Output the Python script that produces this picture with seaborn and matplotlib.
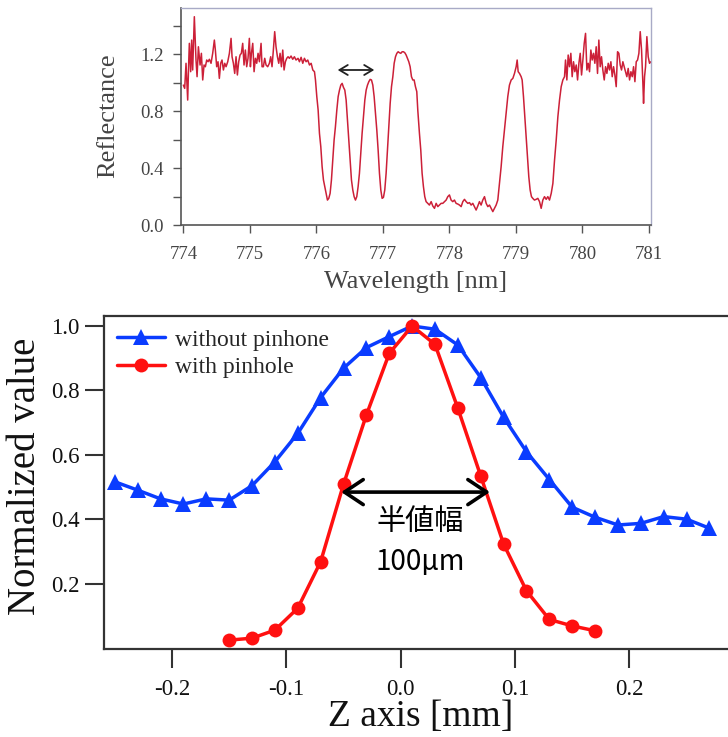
import matplotlib
matplotlib.use("Agg")
import matplotlib.pyplot as plt
import numpy as np
import pandas as pd
import seaborn as sns

sns.set_theme(style="white")
plt.rcParams['font.family'] = ['Liberation Serif', 'DejaVu Serif']

# ---------------- top panel: reflectance spectrum ----------------
wl_a = [774.000, 774.020, 774.040, 774.065, 774.080, 774.090, 774.110, 774.125, 774.140, 774.165,
        774.190, 774.206, 774.226, 774.251, 774.271, 774.291, 774.311, 774.331, 774.351, 774.371,
        774.391, 774.416, 774.441, 774.466, 774.481, 774.501, 774.521, 774.541, 774.561, 774.581,
        774.602, 774.622, 774.642, 774.667, 774.692, 774.717, 774.732, 774.752, 774.772, 774.792,
        774.812, 774.832, 774.852, 774.872, 774.892, 774.912, 774.932, 774.952, 774.972, 774.992,
        775.008, 775.023, 775.043, 775.063, 775.083, 775.103, 775.123, 775.143, 775.168, 775.183,
        775.203, 775.223, 775.243, 775.268, 775.293, 775.313, 775.333, 775.353, 775.373, 775.393,
        775.414, 775.434, 775.454, 775.474, 775.494, 775.514, 775.534, 775.554, 775.574, 775.594,
        775.619, 775.644, 775.669, 775.694, 775.724]
refl_a = [0.982, 0.959, 1.135, 0.877, 1.135, 1.275, 1.076, 1.298, 1.088, 1.462,
          1.158, 1.041, 1.251, 1.123, 1.205, 1.018, 1.123, 1.111, 1.158, 1.146,
          1.163, 1.135, 1.205, 1.298, 1.228, 1.111, 1.146, 1.029, 1.135, 1.158,
          1.088, 1.135, 1.111, 1.146, 1.205, 1.310, 1.181, 1.135, 1.064, 1.181,
          1.053, 1.146, 1.193, 1.205, 1.275, 1.123, 1.228, 1.111, 1.170, 1.310,
          1.111, 1.205, 1.275, 1.076, 1.170, 1.135, 1.205, 1.146, 1.275, 1.111,
          1.111, 1.170, 1.123, 1.111, 1.135, 1.181, 1.111, 1.228, 1.357, 1.251,
          1.181, 1.135, 1.205, 1.111, 1.228, 1.088, 1.146, 1.170, 1.181, 1.170,
          1.186, 1.163, 1.181, 1.158, 1.170]

wl_b = [775.745, 775.770, 775.795, 775.820, 775.845, 775.870, 775.896, 775.921, 775.946, 775.971,
        775.986, 776.006, 776.026, 776.046, 776.066, 776.086, 776.106, 776.126, 776.146, 776.166,
        776.186, 776.206, 776.226, 776.246, 776.266, 776.286, 776.307, 776.327, 776.347, 776.367,
        776.387, 776.407, 776.427, 776.447, 776.467, 776.487, 776.507, 776.527, 776.547, 776.567,
        776.587, 776.607, 776.627, 776.647, 776.667, 776.687, 776.707, 776.728, 776.748, 776.768,
        776.788, 776.808, 776.828, 776.848, 776.868, 776.888, 776.908, 776.928, 776.948, 776.968,
        776.988, 777.008, 777.028, 777.048, 777.068, 777.088, 777.109, 777.129, 777.149, 777.169,
        777.189, 777.209, 777.229, 777.249, 777.269, 777.289, 777.309, 777.329, 777.349, 777.369,
        777.389, 777.409, 777.429, 777.449, 777.469, 777.489, 777.509]
refl_b = [1.146, 1.177, 1.135, 1.170, 1.146, 1.158, 1.123, 1.135, 1.088, 1.076,
          1.018, 0.901, 0.807, 0.643, 0.550, 0.409, 0.316, 0.269, 0.222, 0.175,
          0.187, 0.222, 0.316, 0.456, 0.596, 0.690, 0.807, 0.901, 0.947, 0.982,
          0.994, 0.966, 0.947, 0.877, 0.737, 0.596, 0.456, 0.316, 0.246, 0.199,
          0.175, 0.199, 0.269, 0.363, 0.503, 0.643, 0.760, 0.877, 0.947, 0.982,
          1.006, 1.022, 1.018, 0.982, 0.901, 0.784, 0.667, 0.526, 0.363, 0.246,
          0.187, 0.194, 0.246, 0.363, 0.526, 0.690, 0.854, 0.971, 1.041, 1.135,
          1.181, 1.205, 1.216, 1.209, 1.205, 1.216, 1.216, 1.209, 1.193, 1.170,
          1.146, 1.111, 1.041, 1.018, 1.018, 0.971, 0.936]

wl_c = [777.524, 777.549, 777.569, 777.589, 777.609, 777.629, 777.649, 777.674, 777.699, 777.725,
        777.750, 777.775, 777.800, 777.825, 777.850, 777.875, 777.900, 777.925, 777.950, 777.975,
        778.000, 778.025, 778.050, 778.075, 778.100, 778.126, 778.151, 778.176, 778.201, 778.226,
        778.251, 778.276, 778.301, 778.326, 778.351, 778.376, 778.401, 778.426, 778.451, 778.476,
        778.501, 778.527, 778.552, 778.577, 778.602, 778.627, 778.652, 778.677, 778.702, 778.727,
        778.752, 778.777, 778.802, 778.827, 778.852, 778.877, 778.902, 778.928, 778.953, 778.978,
        779.003, 779.018, 779.033, 779.053, 779.078, 779.093, 779.113, 779.133, 779.153, 779.173,
        779.193, 779.213, 779.233, 779.253, 779.278, 779.303]
refl_c = [0.807, 0.643, 0.526, 0.363, 0.269, 0.199, 0.164, 0.152, 0.140, 0.164,
          0.133, 0.117, 0.152, 0.129, 0.140, 0.152, 0.152, 0.164, 0.175, 0.199,
          0.211, 0.175, 0.164, 0.175, 0.152, 0.147, 0.140, 0.129, 0.164, 0.180,
          0.164, 0.152, 0.157, 0.140, 0.152, 0.129, 0.105, 0.133, 0.164, 0.140,
          0.175, 0.199, 0.152, 0.129, 0.140, 0.117, 0.094, 0.117, 0.140, 0.175,
          0.292, 0.409, 0.550, 0.667, 0.784, 0.901, 0.982, 1.018, 1.029, 1.064,
          1.111, 1.158, 1.076, 1.064, 1.041, 1.018, 0.901, 0.760, 0.620, 0.480,
          0.339, 0.246, 0.199, 0.187, 0.175, 0.180]

wl_d = [779.329, 779.354, 779.379, 779.404, 779.429, 779.454, 779.479, 779.504, 779.530, 779.555,
        779.580, 779.605, 779.630, 779.655, 779.680, 779.705, 779.730, 779.745, 779.765, 779.785,
        779.805, 779.825, 779.845, 779.865, 779.885, 779.906, 779.926, 779.946, 779.966, 779.986,
        780.006, 780.026, 780.046, 780.066, 780.086, 780.106, 780.126, 780.146, 780.166, 780.186,
        780.206, 780.226, 780.246, 780.266, 780.286, 780.306, 780.327, 780.347, 780.367, 780.387,
        780.407, 780.427, 780.447, 780.467, 780.487, 780.507, 780.527, 780.547, 780.567, 780.587,
        780.607, 780.627, 780.647, 780.667, 780.687, 780.708, 780.728, 780.748, 780.768, 780.788,
        780.808, 780.828, 780.848, 780.868, 780.888, 780.908, 780.918, 780.933, 780.948, 780.968,
        780.988, 781.008, 781.028]
refl_d = [0.187, 0.164, 0.117, 0.175, 0.199, 0.180, 0.199, 0.175, 0.222, 0.292,
          0.456, 0.596, 0.760, 0.877, 0.971, 1.018, 1.041, 1.158, 1.018, 1.193,
          1.111, 1.205, 1.041, 1.146, 1.076, 1.123, 1.018, 1.135, 1.205, 1.053,
          1.158, 1.275, 1.345, 1.088, 1.135, 1.076, 1.228, 1.158, 1.205, 1.135,
          1.251, 1.064, 1.298, 1.111, 1.181, 1.088, 1.018, 1.111, 1.064, 1.135,
          1.088, 1.146, 1.041, 1.111, 1.053, 0.971, 1.216, 1.205, 1.123, 1.088,
          1.146, 1.111, 1.076, 1.041, 1.099, 1.018, 1.076, 1.041, 1.111, 1.006,
          1.146, 1.158, 1.205, 1.357, 1.228, 0.994, 0.854, 1.041, 1.111, 1.322,
          1.181, 1.135, 1.146]

top_xticks = [774, 775, 776, 777, 778, 779, 780, 781]
top_yticks = [0.0, 0.4, 0.8, 1.2]
top_yticklabels = ["0.0", "0.4", "0.8", "1.2"]
top_yminor = [0.2, 0.6, 1.0, 1.4]
spacing_arrow = (776.32, 776.87, 1.088)

# ---------------- bottom panel: Z scan ----------------
z_blue = [-0.25, -0.23, -0.21, -0.19, -0.17, -0.15, -0.13, -0.11, -0.09, -0.07,
          -0.05, -0.03, -0.01, 0.01, 0.03, 0.05, 0.07, 0.09, 0.11, 0.13,
          0.15, 0.17, 0.19, 0.21, 0.23, 0.25, 0.27]
v_blue = [0.517, 0.491, 0.464, 0.448, 0.464, 0.460, 0.505, 0.579, 0.667, 0.778,
          0.869, 0.933, 0.967, 1.000, 0.990, 0.941, 0.840, 0.717, 0.610, 0.524,
          0.438, 0.407, 0.383, 0.388, 0.409, 0.401, 0.373]
z_red = [-0.15, -0.13, -0.11, -0.09, -0.07, -0.05, -0.03, -0.01, 0.01, 0.03,
         0.05, 0.07, 0.09, 0.11, 0.13, 0.15, 0.17]
v_red = [0.026, 0.032, 0.057, 0.125, 0.269, 0.509, 0.724, 0.915, 1.000, 0.943,
         0.745, 0.535, 0.324, 0.179, 0.090, 0.070, 0.055]
bot_xticks = [-0.2, -0.1, 0.0, 0.1, 0.2]
bot_xticklabels = ["-0.2", "-0.1", "0.0", "0.1", "0.2"]
bot_yticks = [0.2, 0.4, 0.6, 0.8, 1.0]
bot_yticklabels = ["0.2", "0.4", "0.6", "0.8", "1.0"]
fwhm_arrow = (-0.052, 0.078, 0.485)
fwhm_label = "半値幅"
fwhm_value = "100µm"
label_blue = "without pinhone"
label_red = "with pinhole"

spec = pd.DataFrame({"wl": wl_a + wl_b + wl_c + wl_d,
                     "refl": refl_a + refl_b + refl_c + refl_d})
df_blue = pd.DataFrame({"z": z_blue, "v": v_blue})
df_red = pd.DataFrame({"z": z_red, "v": v_red})

W, H = 728, 737
fig = plt.figure(figsize=(W / 100, H / 100), dpi=100)

# ---- top axes ----
t_l, t_r, t_t, t_b = 180.7, 651.0, 8.3, 225.0
ax1 = fig.add_axes([t_l / W, 1 - t_b / H, (t_r - t_l) / W, (t_b - t_t) / H])
sns.lineplot(data=spec, x="wl", y="refl", ax=ax1, color="#cc2038", lw=1.1,
             sort=False, estimator=None)
ax1.set_xlim(773.96, 781.03)
ax1.set_ylim(0, 1.521)
ax1.set_xticks(top_xticks)
ax1.set_xticklabels([str(t) for t in top_xticks])
ax1.set_yticks(top_yticks)
ax1.set_yticklabels(top_yticklabels)
ax1.set_yticks(top_yminor, minor=True)
ax1.tick_params(axis="both", which="both", direction="out", length=6, width=1.0,
                color="#555555", labelcolor="#444444", labelsize=13.5)
ax1.tick_params(axis="y", which="both", pad=6, left=True)
ax1.tick_params(axis="x", pad=9, bottom=True)
for s in ["left", "bottom"]:
    ax1.spines[s].set_color("#555555")
    ax1.spines[s].set_linewidth(1.2)
for s in ["top", "right"]:
    ax1.spines[s].set_color("#a8aac6")
    ax1.spines[s].set_linewidth(1.0)
ax1.set_xlabel("Wavelength [nm]", fontsize=19, color="#444444")
ax1.set_ylabel("Reflectance", fontsize=19, color="#444444")
ax1.xaxis.set_label_coords(0.5, (t_b - 282) / (t_b - t_t))
ax1.xaxis.label.set_va("center")
ax1.yaxis.set_label_coords((108 - t_l) / (t_r - t_l), (t_b - 116) / (t_b - t_t))
ax1.yaxis.label.set_va("center")
ax1.annotate("", xy=(spacing_arrow[0], spacing_arrow[2]),
             xytext=(spacing_arrow[1], spacing_arrow[2]),
             arrowprops=dict(arrowstyle="<->,head_length=0.5,head_width=0.3",
                             color="#222222", lw=1.3, mutation_scale=12,
                             shrinkA=0, shrinkB=0))

# ---- bottom axes ----
b_l, b_r, b_t, b_b = 104.5, 742.6, 316.0, 648.5
ax2 = fig.add_axes([b_l / W, 1 - b_b / H, (b_r - b_l) / W, (b_b - b_t) / H])
sns.lineplot(data=df_blue, x="z", y="v", ax=ax2, color="#0a3cff", lw=2.5,
             marker="^", markersize=12, markeredgewidth=0, label=label_blue)
sns.lineplot(data=df_red, x="z", y="v", ax=ax2, color="#ff1010", lw=2.5,
             marker="o", markersize=10, markeredgewidth=0, label=label_red)
ax2.set_xlim(-0.259, 0.299)
ax2.set_ylim(0.0, 1.031)
ax2.set_xticks(bot_xticks)
ax2.set_xticklabels(bot_xticklabels)
ax2.set_yticks(bot_yticks)
ax2.set_yticklabels(bot_yticklabels)
ax2.tick_params(axis="both", direction="out", length=14, width=1.5,
                color="#333333", labelcolor="#111111", labelsize=16.5)
ax2.tick_params(axis="x", pad=8, bottom=True)
ax2.tick_params(axis="y", pad=4, left=True)
for s in ["left", "bottom", "top", "right"]:
    ax2.spines[s].set_color("#333333")
    ax2.spines[s].set_linewidth(1.6)
ax2.set_xlabel("Z axis [mm]", fontsize=27, color="#111111")
ax2.set_ylabel("Normalized value", fontsize=28, color="#111111")
ax2.xaxis.set_label_coords((421 - b_l) / (b_r - b_l), (b_b - 717) / (b_b - b_t))
ax2.xaxis.label.set_va("center")
ax2.yaxis.set_label_coords((25.5 - b_l) / (b_r - b_l), (b_b - 476) / (b_b - b_t))
ax2.yaxis.label.set_va("center")
leg = ax2.legend(loc="upper left", frameon=False, fontsize=17, handlelength=2.0,
                 handletextpad=0.45, borderaxespad=0.15, labelspacing=0.25)

ax2.annotate("", xy=(fwhm_arrow[0], fwhm_arrow[2]), xytext=(fwhm_arrow[1], fwhm_arrow[2]),
             arrowprops=dict(arrowstyle="<->,head_length=0.45,head_width=0.3",
                             color="black", lw=2.6, mutation_scale=30,
                             shrinkA=0, shrinkB=0))
cjk = ["Noto Sans CJK JP", "DejaVu Sans"]
ax2.text(0.017, 0.393, fwhm_label, fontsize=21, family=cjk, ha="center", va="center",
         color="black")
ax2.text(0.017, 0.269, fwhm_value, fontsize=20, family=cjk, ha="center", va="center",
         color="black")

fig.savefig("out.png", dpi=100)
